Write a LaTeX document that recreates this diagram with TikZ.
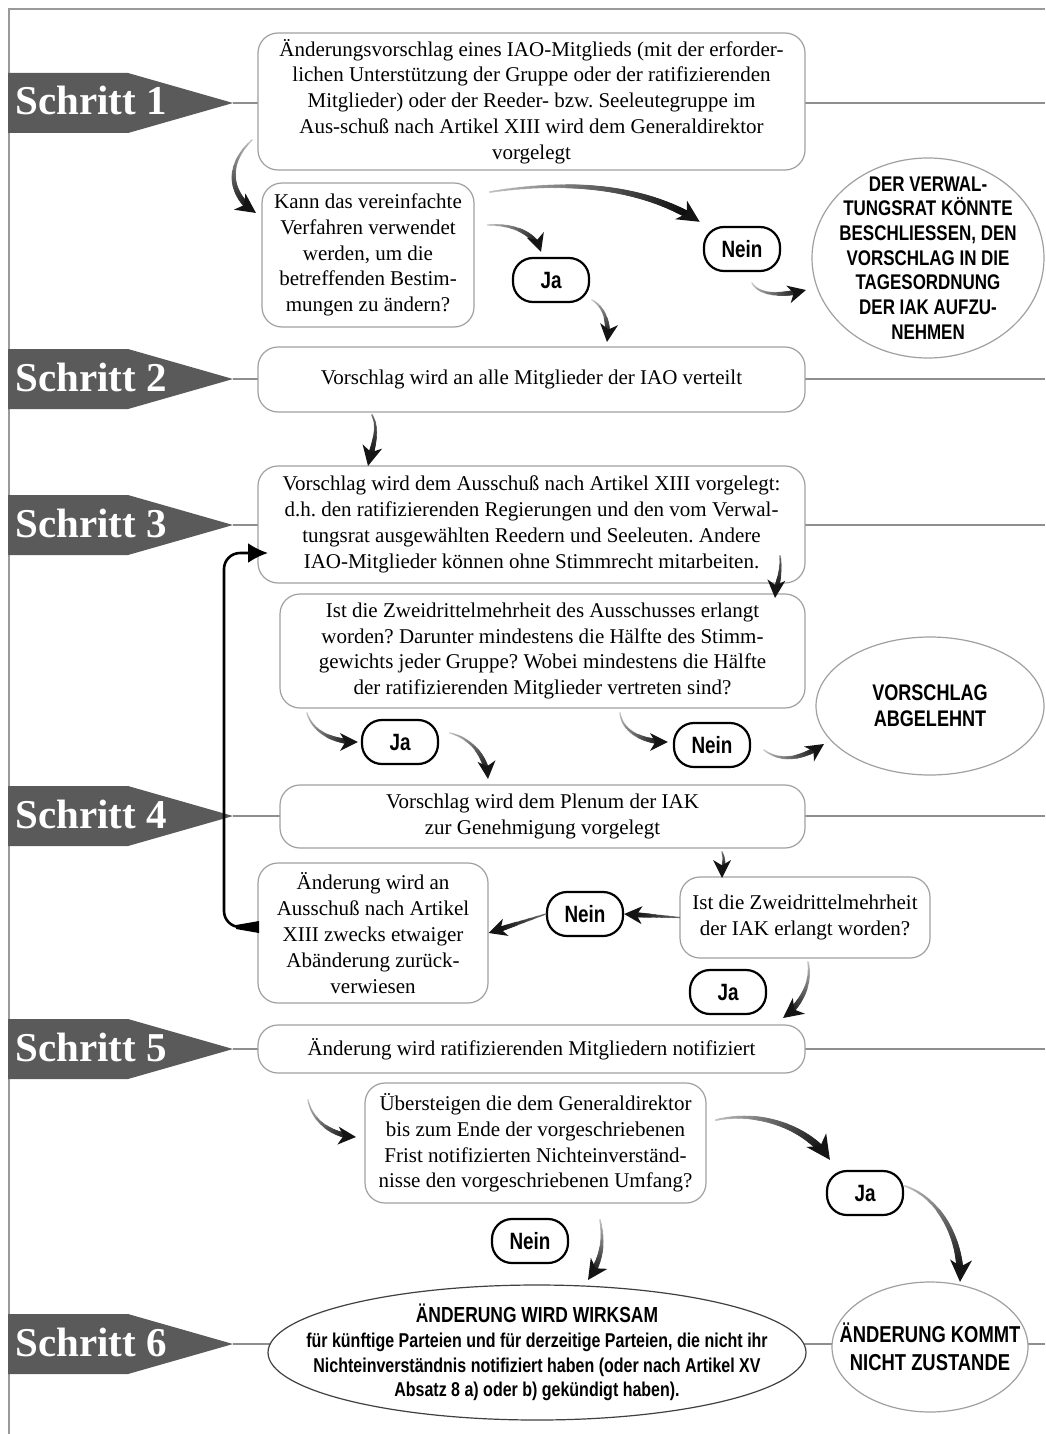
\documentclass[tikz,border=0pt]{standalone}
\usepackage{fontspec}
\setmainfont{Liberation Serif}
\newfontfamily\condfont[FakeStretch=0.8]{Liberation Sans}
\usetikzlibrary{decorations.markings,shapes.geometric,arrows.meta}

\definecolor{tagcol}{HTML}{5A5A5A}
\definecolor{linecol}{HTML}{8E8E8E}
\definecolor{boxcol}{HTML}{A0A0A0}
\definecolor{framecol}{HTML}{9A9A9A}
\colorlet{arrlight}{black!25}
\colorlet{arrdark}{black!60}

\tikzset{
  box/.style={draw=boxcol, line width=0.6pt, fill=white, rounded corners=10pt,
    inner sep=0pt, align=center, font=\fontsize{10.5}{12.9}\selectfont},
  ell/.style={ellipse, draw=boxcol, line width=0.6pt, fill=white, inner sep=0pt},
  ctext/.style={align=center, inner sep=0pt},
  pill/.style={draw=black, line width=1.1pt, rounded corners=10pt, fill=white,
    minimum width=38pt, minimum height=22pt, inner sep=0pt,
    font=\condfont\bfseries\fontsize{11.8}{13}\selectfont},
  stepline/.style={draw=linecol, line width=1pt},
  steptxt/.style={anchor=base west, inner sep=0pt, text=white,
    font=\bfseries\fontsize{20.5}{24}\selectfont},
  farr/.style 2 args={decorate, decoration={markings,
     mark=between positions 0 and -6pt step 0.6pt with {%
        \pgfmathsetmacro{\arrfr}{(\pgfkeysvalueof{/pgf/decoration/mark info/distance from start})/(\pgfdecoratedpathlength)}%
        \pgfmathtruncatemacro{\arrpc}{100*\arrfr}%
        \pgfmathsetmacro{\arrrad}{#2*(0.45+1.3*\arrfr)}%
        \fill[black!\arrpc!#1] (0pt,0pt) circle [radius=\arrrad pt];},
     mark=at position 1 with {%
        \fill[black!92] (0pt,0pt) -- ({-#2*10pt},{#2*5pt}) -- ({-#2*7pt},0pt) -- ({-#2*10pt},{-#2*5pt}) -- cycle;}
  }},
}

\begin{document}
\frenchspacing
\begin{tikzpicture}[x=0.5pt,y=-0.5pt]
\useasboundingbox (0,0) rectangle (1045,1434);
\fill[white] (0,0) rectangle (1045,1434);
\draw[framecol, line width=0.8pt] (9,1434) -- (9,9) -- (1045,9);

% step tags and lines
\foreach \yy/\nn in {103/1,379/2,525/3,816/4,1049/5,1344/6}{
  \draw[stepline] (233,\yy) -- (1045,\yy);
  \fill[tagcol] (8,\yy-30) -- (128,\yy-30) -- (233,\yy) -- (128,\yy+30) -- (8,\yy+30) -- cycle;
  \node[steptxt] (s\nn) at (15,\yy+12) {Schritt \nn};
}

% step 1
\node[box, minimum width=273.5pt, minimum height=68.5pt] (b1) at (531.5,101.5) {Änderungsvorschlag eines IAO-Mitglieds (mit der erforder-\\lichen Unterstützung der Gruppe oder der ratifizierenden\\Mitglieder) oder der Reeder- bzw. Seeleutegruppe im\\Aus-schuß nach Artikel XIII wird dem Generaldirektor\\vorgelegt};
\node[box, minimum width=106pt, minimum height=72pt] (b1q) at (368,255) {Kann das vereinfachte\\Verfahren verwendet\\werden, um die\\betreffenden Bestim-\\mungen zu ändern?};
\node[pill] (ja1) at (551,280) {Ja};
\node[pill] (nein1) at (742,249) {Nein};
\node[ell, minimum width=116pt, minimum height=100pt] (c1) at (928,258) {};
\node[ctext, font=\condfont\bfseries\fontsize{10.6}{12.35}\selectfont] (c1t) at (c1.center) {DER VERWAL-\\TUNGSRAT KÖNNTE\\BESCHLIESSEN, DEN\\VORSCHLAG IN DIE\\TAGESORDNUNG\\DER IAK AUFZU-\\NEHMEN};

% step 2
\node[box, minimum width=273.5pt, minimum height=32.5pt] (b2) at (531.5,379.5) {Vorschlag wird an alle Mitglieder der IAO verteilt};

% step 3
\node[box, minimum width=273.5pt, minimum height=58.5pt] (b3) at (531.5,524.5) {Vorschlag wird dem Ausschuß nach Artikel XIII vorgelegt:\\d.h. den ratifizierenden Regierungen und den vom Verwal-\\tungsrat ausgewählten Reedern und Seeleuten. Andere\\IAO-Mitglieder können ohne Stimmrecht mitarbeiten.};
\node[box, minimum width=262.5pt, minimum height=57pt] (b3q) at (542.5,651) {Ist die Zweidrittelmehrheit des Ausschusses erlangt\\worden? Darunter mindestens die Hälfte des Stimm-\\gewichts jeder Gruppe? Wobei mindestens die Hälfte\\der ratifizierenden Mitglieder vertreten sind?};
\node[pill] (ja2) at (400,742) {Ja};
\node[pill] (nein2) at (712,745) {Nein};
\node[ell, minimum width=114pt, minimum height=69pt] (c2) at (930,706) {};
\node[ctext, font=\condfont\bfseries\fontsize{11.3}{13}\selectfont] (c2t) at (c2.center) {VORSCHLAG\\ABGELEHNT};

% step 4
\node[box, minimum width=262.5pt, minimum height=31.5pt] (b4) at (542.5,816.5) {Vorschlag wird dem Plenum der IAK\\zur Genehmigung vorgelegt};
\node[box, minimum width=115pt, minimum height=70pt] (b4n) at (373,933) {Änderung wird an\\Ausschuß nach Artikel\\XIII zwecks etwaiger\\Abänderung zurück-\\verwiesen};
\node[pill] (nein3) at (585,914) {Nein};
\node[box, minimum width=125pt, minimum height=40.5pt] (b4q) at (805,917.5) {Ist die Zweidrittelmehrheit\\der IAK erlangt worden?};
\node[pill] (ja3) at (728,992) {Ja};

% step 5
\node[box, minimum width=273.5pt, minimum height=24pt] (b5) at (531.5,1049) {Änderung wird ratifizierenden Mitgliedern notifiziert};
\node[box, minimum width=170.5pt, minimum height=60pt] (b5q) at (535.5,1143) {Übersteigen die dem Generaldirektor\\bis zum Ende der vorgeschriebenen\\Frist notifizierten Nichteinverständ-\\nisse den vorgeschriebenen Umfang?};
\node[pill] (ja4) at (865,1193) {Ja};
\node[pill] (nein4) at (530,1241) {Nein};

% step 6
\node[ell, draw=black!75, minimum width=269pt, minimum height=67.5pt] (e6) at (537,1352.5) {};
\node[ctext, font=\condfont\bfseries\fontsize{10}{12.3}\selectfont] (e6t) at (e6.center) {{\fontsize{10.9}{12.3}\selectfont ÄNDERUNG WIRD WIRKSAM}\\für künftige Parteien und für derzeitige Parteien, die nicht ihr\\Nichteinverständnis notifiziert haben (oder nach Artikel XV\\Absatz 8 a) oder b) gekündigt haben).};
\node[ell, minimum width=98pt, minimum height=65pt] (c6) at (930,1347) {};
\node[ctext, font=\condfont\bfseries\fontsize{11.5}{14}\selectfont] (c6t) at (c6.center) {ÄNDERUNG KOMMT\\NICHT ZUSTANDE};

% arrows (coordinates of free ends)
\coordinate (a1s) at (252,140);  \coordinate (a1e) at (256,213);
\coordinate (a2s) at (490,192);  \coordinate (a2e) at (700,222);
\coordinate (a3s) at (488,225);  \coordinate (a3e) at (541,252);
\coordinate (a4s) at (592,300);  \coordinate (a4e) at (607,342);
\coordinate (a5s) at (752,283);  \coordinate (a5e) at (806,290);
\coordinate (a6s) at (372,415);  \coordinate (a6e) at (368,466);
\coordinate (a7s) at (780,556);  \coordinate (a7e) at (775,598);
\coordinate (a8s) at (307,713);  \coordinate (a8e) at (358,742);
\coordinate (a9s) at (450,733);  \coordinate (a9e) at (488,779);
\coordinate (a10s) at (620,713); \coordinate (a10e) at (668,742);
\coordinate (a11s) at (764,750); \coordinate (a11e) at (824,744);
\coordinate (a12s) at (722,852); \coordinate (a12e) at (722,878);
\coordinate (a15s) at (258,927); \coordinate (a15e) at (268,553);
\coordinate (a16s) at (808,962); \coordinate (a16e) at (783,1018);
\coordinate (a17s) at (308,1100); \coordinate (a17e) at (356,1137);
\coordinate (a18s) at (716,1120); \coordinate (a18e) at (830,1160);
\coordinate (a19s) at (905,1186); \coordinate (a19e) at (960,1282);
\coordinate (a20s) at (600,1220); \coordinate (a20e) at (588,1280);

\path[farr={arrlight}{1}] (a1s) .. controls (228,162) and (226,192) .. (a1e);
\path[farr={arrlight}{1.1}] (a2s) .. controls (580,178) and (650,190) .. (a2e);
\path[farr={arrlight}{0.9}] (a3s) .. controls (515,224) and (535,234) .. (a3e);
\path[farr={arrlight}{0.9}] (a4s) .. controls (606,308) and (609,325) .. (a4e);
\path[farr={arrlight}{0.9}] (a5s) .. controls (760,296) and (782,296) .. (a5e);
\path[farr={arrdark}{1}] (a6s) .. controls (380,430) and (372,448) .. (a6e);
\path[farr={arrdark}{0.9}] (a7s) .. controls (782,575) and (776,585) .. (a7e);
\path[farr={arrlight}{0.9}] (a8s) .. controls (312,730) and (330,742) .. (a8e);
\path[farr={arrlight}{0.9}] (a9s) .. controls (470,738) and (486,755) .. (a9e);
\path[farr={arrlight}{0.9}] (a10s) .. controls (622,730) and (640,742) .. (a10e);
\path[farr={arrlight}{0.9}] (a11s) .. controls (780,762) and (800,760) .. (a11e);
\path[farr={arrdark}{0.9}] (a12s) .. controls (726,862) and (722,870) .. (a12e);
\path[farr={arrdark}{0.9}] (b4q.west) -- (nein3.east);
\path[farr={arrdark}{0.9}] (nein3.west) -- (b4n.east);
\draw[black, line width=1.3pt, rounded corners=8pt, -{Latex[length=10pt,width=10pt]}] (a15s) -- (224,927) -- (224,553) -- (a15e);
\fill[black] (259,921) -- (259,933) -- (236,929) -- (236,925) -- cycle;
\path[farr={arrlight}{1}] (a16s) .. controls (812,985) and (800,1005) .. (a16e);
\path[farr={arrlight}{0.9}] (a17s) .. controls (312,1120) and (330,1135) .. (a17e);
\path[farr={arrlight}{1.2}] (a18s) .. controls (760,1110) and (808,1128) .. (a18e);
\path[farr={arrlight}{1.1}] (a19s) .. controls (940,1198) and (962,1240) .. (a19e);
\path[farr={arrlight}{1}] (a20s) .. controls (605,1245) and (600,1262) .. (a20e);
\end{tikzpicture}
\end{document}
